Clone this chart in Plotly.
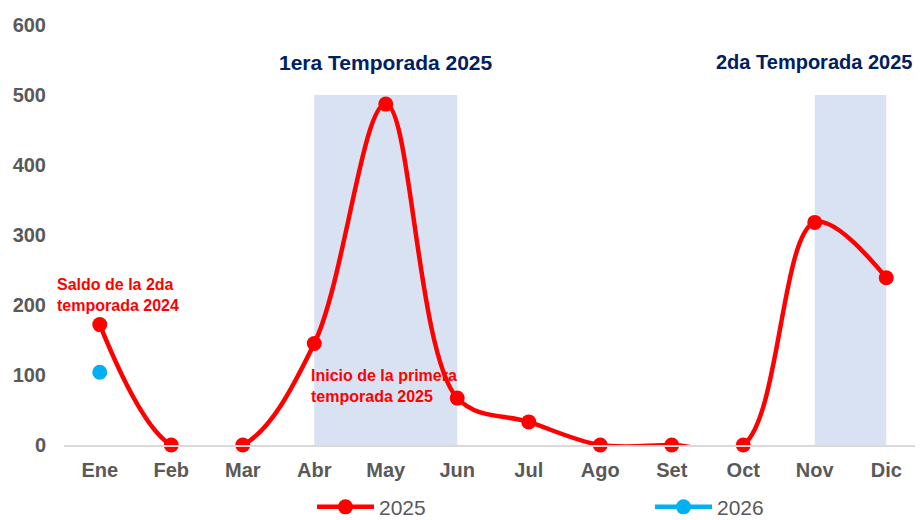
import plotly.graph_objects as go

meses = ['Ene', 'Feb', 'Mar', 'Abr', 'May', 'Jun', 'Jul', 'Ago', 'Set', 'Oct', 'Nov', 'Dic']
valores_2025 = [172, 0, 0, 145, 487, 67, 33, 0, 0, 0, 318, 239]
meses_2026 = ['Ene']
valores_2026 = [104]
y_ticks = [0, 100, 200, 300, 400, 500, 600]

rojo = '#FF0000'
azul = '#00B0F0'
banda = '#D9E2F3'
gris = '#595959'
font_family = 'Arial, Liberation Sans, sans-serif'

fig = go.Figure()

fig.add_trace(go.Scatter(
    x=meses, y=valores_2025, name='2025', mode='lines+markers',
    line=dict(color=rojo, width=4.5, shape='spline', smoothing=1),
    marker=dict(color=rojo, size=15),
    cliponaxis=False, legend='legend', showlegend=True,
))
fig.add_trace(go.Scatter(
    x=meses_2026, y=valores_2026, name='2026', mode='lines+markers',
    line=dict(color=azul, width=4.5),
    marker=dict(color=azul, size=15),
    cliponaxis=False, legend='legend2', showlegend=True,
))

# temporadas sombreadas
for x0, x1 in [(3, 5), (10, 11)]:
    fig.add_shape(type='rect', xref='x', yref='y', x0=x0, x1=x1, y0=0, y1=500,
                  fillcolor=banda, line_width=0, layer='below')

titulo = dict(size=21, color='#002060', family=font_family, weight='bold')
nota = dict(size=16, color=rojo, family=font_family, weight='bold')

fig.add_annotation(x=4, y=547, text='1era Temporada 2025', showarrow=False, font=titulo)
fig.add_annotation(x=10, y=547, text='2da Temporada 2025', showarrow=False,
                   font=dict(titulo, size=20), xshift=-1)
fig.add_annotation(x=-0.01, xref='paper', y=214, text='Saldo de la 2da<br>temporada 2024',
                   showarrow=False, xanchor='left', align='left', font=nota)
fig.add_annotation(x=2.93, y=84, text='Inicio de la primera<br>temporada 2025',
                   showarrow=False, xanchor='left', align='left', font=nota)

fig.update_xaxes(
    categoryorder='array', categoryarray=meses,
    range=[-0.5, 11.5], automargin=False,
    showgrid=False, showline=True, linecolor='#D9D9D9', linewidth=2,
    ticks='', ticklabelstandoff=6,
    tickfont=dict(size=20, color=gris, family=font_family, weight='bold'),
)
fig.update_yaxes(
    range=[0, 600], tickvals=y_ticks, automargin=False,
    showgrid=False, zeroline=False, showline=False,
    ticks='', ticklabelstandoff=17,
    tickfont=dict(size=20, color=gris, family=font_family, weight='bold'),
)

leyenda = dict(orientation='h', yref='container', y=0.025, yanchor='middle', xanchor='left',
               itemwidth=57, bgcolor='rgba(0,0,0,0)',
               font=dict(size=21, color=gris, family=font_family))

# la pagina html deja 8px de margen, el grafico ocupa 915x512
fig.update_layout(
    width=915, height=512,
    plot_bgcolor='white', paper_bgcolor='white',
    margin=dict(l=56, r=1, t=17, b=75, autoexpand=False),
    font=dict(family=font_family, color=gris),
    showlegend=True,
    legend=dict(leyenda, x=0.289),
    legend2=dict(leyenda, x=0.683),
)

fig.write_html('out.html')
